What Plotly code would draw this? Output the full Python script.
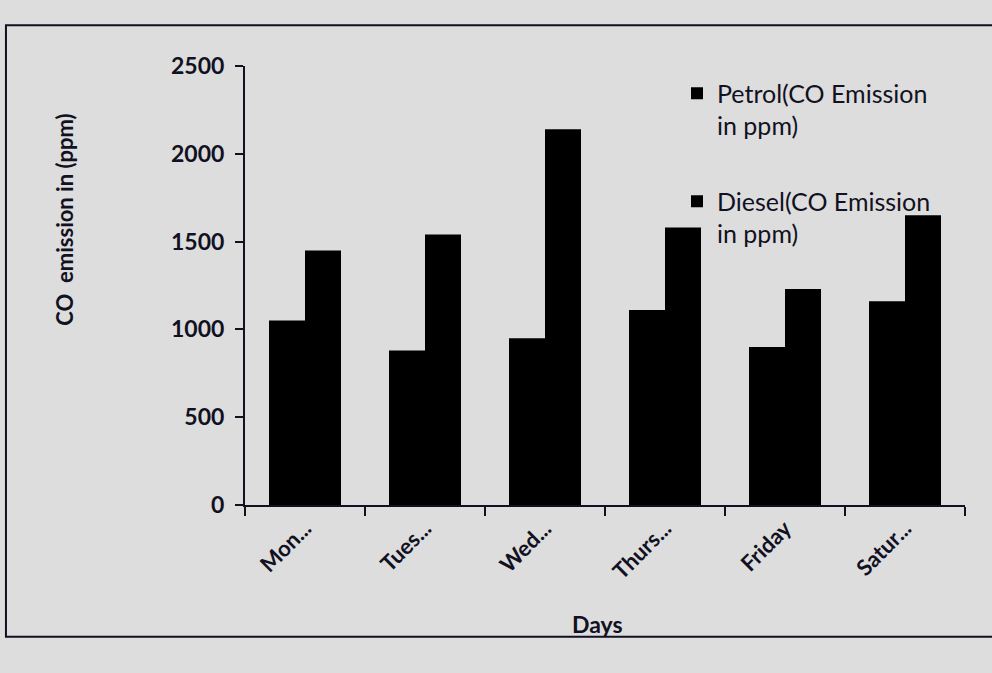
import plotly.graph_objects as go

days = ["Mon...", "Tues...", "Wed...", "Thurs...", "Friday", "Satur..."]
petrol = [1050, 880, 950, 1110, 900, 1160]
diesel = [1450, 1540, 2140, 1580, 1230, 1650]
series_names = ["Petrol(CO Emission<br>in ppm)", "Diesel(CO Emission<br>in ppm)"]
y_ticks = [0, 500, 1000, 1500, 2000, 2500]
y_title = "CO  emission in (ppm)"
x_title = "Days"

ink = "#111122"
bg = "#dddddd"

fig = go.Figure()
fig.add_trace(go.Bar(x=days, y=petrol, name=series_names[0], legendgroup="p",
                     marker=dict(color="#000000", line=dict(width=0))))
fig.add_trace(go.Bar(x=days, y=diesel, name=series_names[1], legendgroup="d",
                     marker=dict(color="#000000", line=dict(width=0))))

fig.update_layout(
    width=992, height=673,
    margin=dict(l=245, r=27, t=66, b=168),
    paper_bgcolor=bg, plot_bgcolor=bg,
    font=dict(family="Lato", size=22, color=ink, weight="bold"),
    barmode="group", bargap=0.4, bargroupgap=0,
    showlegend=True,
    legend=dict(x=0.6, y=0.99, xanchor="left", yanchor="top", valign="top",
                bgcolor="rgba(0,0,0,0)", tracegroupgap=40,
                font=dict(size=25, weight="normal", color=ink),
                itemsizing="constant"),
    xaxis=dict(showline=True, linecolor=ink, linewidth=2, ticks="outside",
               tickson="boundaries", ticklen=9, tickwidth=2, tickcolor=ink,
               tickangle=-45, showgrid=False,
               tickfont=dict(size=22, weight="bold")),
    yaxis=dict(range=[0, 2500], tickvals=y_ticks, showline=True, linecolor=ink,
               linewidth=2, ticks="outside", ticklen=8, tickwidth=2, tickcolor=ink,
               showgrid=False, zeroline=False, ticklabelstandoff=6,
               tickfont=dict(size=23, weight="bold")),
    annotations=[
        dict(text=y_title, xref="paper", yref="paper", x=-0.25, y=0.65,
             xanchor="center", yanchor="middle",
             textangle=-90, showarrow=False, font=dict(size=22, weight="bold")),
        dict(text=x_title, xref="paper", yref="paper", x=0.49, y=-0.27,
             xanchor="center", yanchor="middle",
             showarrow=False, font=dict(size=23, weight="bold")),
    ],
    shapes=[dict(type="rect", xref="paper", yref="paper",
                 x0=-0.332, x1=1.06, y0=-0.30, y1=1.093,
                 line=dict(color=ink, width=2), fillcolor="rgba(0,0,0,0)",
                 layer="below")],
)

fig.write_html("out.html")
